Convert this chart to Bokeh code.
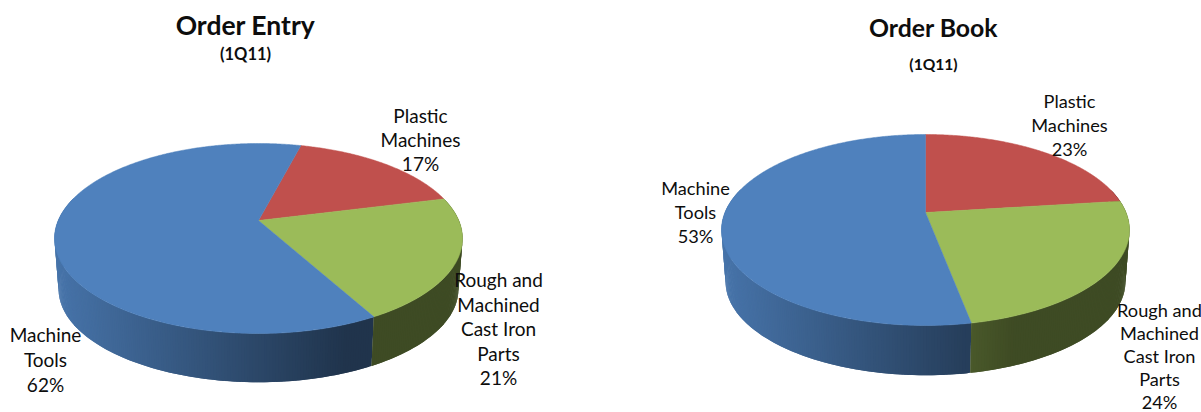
import math
from bokeh.core.properties import value
from bokeh.embed import file_html
from bokeh.plotting import figure
from bokeh.resources import INLINE

# Shares of each product line, in percent, first quarter of 2011
categories = ["Plastic Machines", "Rough and Machined Cast Iron Parts", "Machine Tools"]
order_entry = [17, 21, 62]
order_book = [23, 24, 53]
slice_colors = [(0xC0, 0x50, 0x4D), (0x9B, 0xBB, 0x59), (0x4F, 0x81, 0xBD)]

FONT = "Lato"
TEXT = "#0d0d0d"


def hexcol(rgb, f=1.0):
    return "#%02x%02x%02x" % tuple(int(round(c * f)) for c in rgb)


class Pie:
    """A pie tilted in perspective: the centre sits above the middle of the rim ellipse."""

    def __init__(self, px, py, top, bottom, half_width, depth, start):
        self.px, self.py = px, py
        up, down = py - top, bottom - py
        self.k = (down - up) / (down + up)
        self.s = up * (1 + self.k)
        self.r = half_width * math.sqrt(1 - self.k ** 2)
        self.left = px - half_width
        self.depth = depth
        self.start = start

    def rim(self, deg):
        a = math.radians(deg)
        u, v = math.sin(a), math.cos(a)
        d = 1 + self.k * v
        return self.px + self.r * u / d, self.py - self.s * v / d

    def base(self, deg):
        x, y = self.rim(deg)
        return self.px + (x - self.px) * 0.98, self.py + self.depth + (y - self.py) * 0.98

    def shade(self, x):
        return max(0.40, 0.90 - 0.53 * (x - self.left) / 315)


def draw_pie(p, pie, shares):
    total = sum(shares)
    spans = []
    a = pie.start
    for share in shares:
        b = a + 360 * share / total
        spans.append((a, b))
        a = b

    # side wall: strips darkening to the right; each one runs under its
    # neighbour so that no seam shows between them
    xs, ys, cols = [], [], []
    for (a, b), rgb in zip(spans, slice_colors):
        n = max(2, int((b - a) * 1.5))
        for i in range(n):
            a0 = a + (b - a) * i / n
            a1 = a + (b - a) * (i + 1) / n
            if math.cos(math.radians((a0 + a1) / 2)) > 0.25:
                continue
            a1 = min(a1 + (b - a) / n, b)
            corners = [pie.rim(a0), pie.rim(a1), pie.base(a1), pie.base(a0)]
            xs.append([c[0] for c in corners])
            ys.append([c[1] for c in corners])
            cols.append(hexcol(rgb, pie.shade(corners[0][0])))
    p.patches(xs[::-1], ys[::-1], fill_color=cols[::-1], line_color=None)

    # top face
    for (a, b), rgb in zip(spans, slice_colors):
        n = int((b - a) * 2)
        pts = [(pie.px, pie.py)] + [pie.rim(a + (b - a) * i / n) for i in range(n + 1)]
        p.patch([q[0] for q in pts], [q[1] for q in pts],
                fill_color=hexcol(rgb), line_color=hexcol(rgb), line_width=0.5)


def label(p, x, y, lines, size, step, style="normal"):
    p.text([x] * len(lines), [y + i * step for i in range(len(lines))], text=lines,
           text_font=value(FONT), text_font_size=size, text_font_style=style,
           text_align="center", text_baseline="middle", text_color=TEXT)


p = figure(width=1201, height=412, x_range=(0, 1201), y_range=(412, 0),
           output_backend="svg", toolbar_location=None, min_border=0)
p.axis.visible = False
p.grid.visible = False
p.outline_line_color = None
p.background_fill_color = "white"
p.border_fill_color = "white"

draw_pie(p, Pie(258, 220, 143, 333, 204, 51, 14.5), order_entry)
draw_pie(p, Pie(925, 212, 134, 325, 204, 52, 0), order_book)

label(p, 245, 24.5, ["Order Entry"], "26.5px", 0, "bold")
label(p, 245, 53, ["(1Q11)"], "16.5px", 0, "bold")
label(p, 420, 114.5, ["Plastic", "Machines", f"{order_entry[0]}%"], "19px", 24)
label(p, 498, 279, ["Rough and", "Machined", "Cast Iron", "Parts", f"{order_entry[1]}%"], "19px", 24.5)
label(p, 45, 334, ["Machine", "Tools", f"{order_entry[2]}%"], "19px", 25)

label(p, 933, 27, ["Order Book"], "24.8px", 0, "bold")
label(p, 933, 63, ["(1Q11)"], "15.6px", 0, "bold")
label(p, 1069, 100, ["Plastic", "Machines", f"{order_book[0]}%"], "18.2px", 24)
label(p, 695, 187, ["Machine", "Tools", f"{order_book[2]}%"], "18.2px", 24)
label(p, 1159, 309.5, ["Rough and", "Machined", "Cast Iron", "Parts", f"{order_book[1]}%"], "18.2px", 22.9)

open("out.html", "w").write(file_html(p, INLINE))
